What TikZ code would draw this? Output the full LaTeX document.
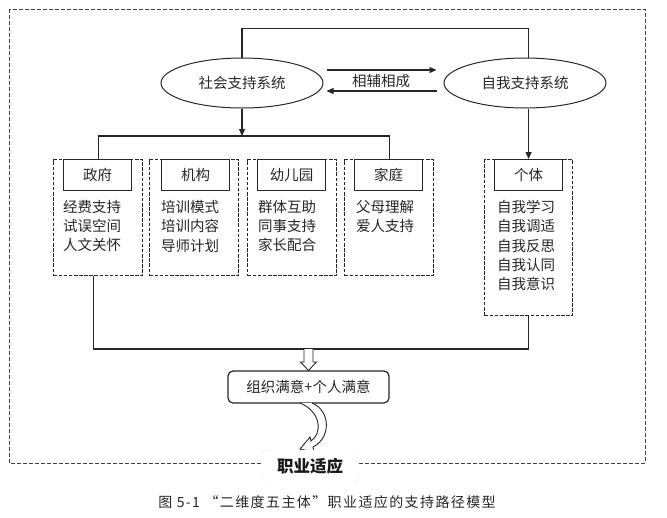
\documentclass[tikz,border=0pt]{standalone}
\usepackage{fontspec}
\setmainfont{Noto Sans CJK SC}
\newfontfamily\capfont{Noto Sans CJK SC}[LetterSpace=10]
\usetikzlibrary{shapes.geometric,arrows.meta,calc}
\begin{document}
\begin{tikzpicture}[x=1pt,y=-1pt,
  ink/.style={draw=black!85},
  line/.style={ink, line width=1.1pt},
  arr/.style={line, -{Triangle[length=7pt,width=6pt]}},
  ell/.style={ellipse, draw=black!85, line width=1pt, minimum width=162pt, minimum height=50pt, inner sep=0pt, font=\fontsize{14.5}{16}\selectfont, text=black!85},
  dbox/.style={rectangle, draw=black!85, dash pattern=on 3.5pt off 1.6pt, line width=1.2pt, minimum width=89pt, anchor=north west, inner sep=0pt},
  hbox/.style={rectangle, draw=black!85, line width=1.2pt, minimum width=68pt, minimum height=31pt, anchor=north west, inner sep=0pt, font=\fontsize{14.5}{16}\selectfont, text=black!85},
  txt/.style={anchor=north west, align=left, inner sep=0pt, font=\fontsize{14.5}{19.3}\selectfont, text=black!85},
  outer/.style={draw=black!75, dash pattern=on 4pt off 2pt, line width=0.9pt},
  hollow/.style={draw=black!85, fill=white, line width=0.9pt, line join=miter}
]
\useasboundingbox (0,0) rectangle (667,517);
\draw[outer] (9,9) rectangle (645,463);

% ellipses
\node[ell] (soc) at (242,83) {社会支持系统};
\node[ell] (self) at (525,83) {自我支持系统};
\node[font=\fontsize{14.5}{16}\selectfont, text=black!85] (mut) at (381,81) {相辅相成};

% dashed boxes
\node[dbox, minimum height=116pt] (g) at (53,159) {};
\node[dbox, minimum height=116pt] (j) at (149,159) {};
\node[dbox, minimum height=116pt] (y) at (247,159) {};
\node[dbox, minimum height=116pt] (f) at (344,159) {};
\node[dbox, minimum height=156pt, minimum width=88pt] (p) at (484,159) {};

% headers
\node[hbox] (gh) at (63,159) {政府};
\node[hbox] (jh) at (161,159) {机构};
\node[hbox] (yh) at (257,159) {幼儿园};
\node[hbox] (fh) at (354,159) {家庭};
\node[hbox] (ph) at (494,159) {个体};

% texts
\node[txt] (gt) at (63,200) {经费支持\\试误空间\\人文关怀};
\node[txt] (jt) at (161,200) {培训模式\\培训内容\\导师计划};
\node[txt] (yt) at (258,200) {群体互助\\同事支持\\家长配合};
\node[txt] (ft) at (356,200) {父母理解\\爱人支持};
\node[txt] (pt) at (497,200) {自我学习\\自我调适\\自我反思\\自我认同\\自我意识};

% top connector
\draw[line] (soc.north) -- ++(0,-29) -| (self.north -| p.north);
% mutual arrows
\draw[arr] ($(soc.east)+(3,-13)$) -- ($(self.west)+(-7,-13)$);
\draw[arr] ($(self.west)+(-7,8)$) -- ($(soc.east)+(3,8)$);
% social down
\draw[line] (g.north) -- ++(0,-23) -| (f.north);
\coordinate (hl) at (97,136);
\draw[arr] (soc.south) -- (soc.south |- hl);
% self down
\draw[arr] (self.south -| p.north) -- (p.north);

% result
\node[rectangle, rounded corners=5pt, draw=black!85, line width=1.2pt, minimum width=161pt, minimum height=32pt, inner sep=0pt, font=\fontsize{14.5}{16}\selectfont, text=black!85] (res) at (308.5,387) {组织满意+个人满意};

% bottom collector
\coordinate (b) at (300,349);
\draw[line] ([xshift=-5pt]g.south) |- (b) -| (p.south);

% hollow down arrow
\draw[hollow] (304,349) -- (304,362) -- (300.5,362) -- (308.5,370.5) -- (316.5,362) -- (313,362) -- (313,349);

% curved hollow arrow
\draw[hollow] (300,403) .. controls (322,412) and (322,434) .. (311,441)
  -- (310,437) -- (300,449) -- (314,452) -- (313,447)
  .. controls (331,438) and (331,411) .. (312,403);

% final label
\node[rectangle, rounded corners=4pt, fill=white, draw=black!6, minimum width=96pt, minimum height=32pt, inner sep=0pt, font=\fontsize{16.5}{18}\selectfont\bfseries, text=black!90] (job) at (310,466) {职业适应};

% caption
\node[font=\capfont\fontsize{14}{16}\selectfont, text=black!85] (cap) at (327,502) {图 5-1 “二维度五主体”职业适应的支持路径模型};
\end{tikzpicture}
\end{document}
